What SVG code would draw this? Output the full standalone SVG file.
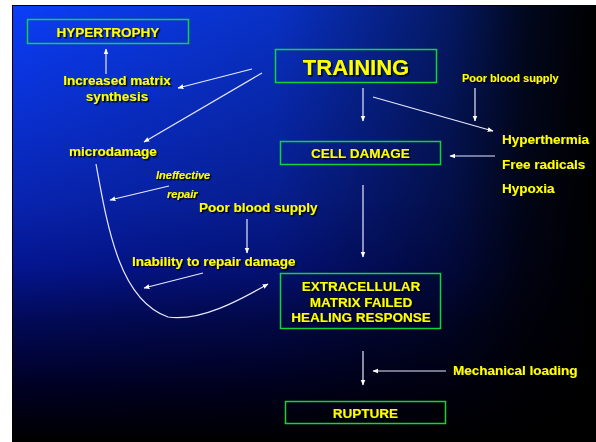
<svg xmlns="http://www.w3.org/2000/svg" width="596" height="442" viewBox="0 0 596 442">
<defs>
<linearGradient id="bgv" x1="0" y1="0" x2="0" y2="1">
<stop offset="0" stop-color="#0b3ef8"/>
<stop offset="0.45" stop-color="#0824b0"/>
<stop offset="0.6" stop-color="#041590"/>
<stop offset="0.72" stop-color="#020a58"/>
<stop offset="0.88" stop-color="#000022"/>
<stop offset="1" stop-color="#000000"/>
</linearGradient>
<linearGradient id="bgh" x1="0" y1="0" x2="1" y2="0">
<stop offset="0" stop-color="#000" stop-opacity="0"/>
<stop offset="0.45" stop-color="#000" stop-opacity="0.2"/>
<stop offset="0.75" stop-color="#000" stop-opacity="0.6"/>
<stop offset="0.88" stop-color="#000" stop-opacity="0.88"/>
<stop offset="1" stop-color="#000" stop-opacity="1"/>
</linearGradient>
<filter id="sh" x="-10%" y="-30%" width="120%" height="160%">
<feDropShadow dx="1.5" dy="1.5" stdDeviation="0.4" flood-color="#000" flood-opacity="0.9"/>
</filter>
<marker id="ah" viewBox="0 0 10 10" refX="9" refY="5" markerWidth="6" markerHeight="6" orient="auto" markerUnits="userSpaceOnUse">
<path d="M0,1 L10,5 L0,9 z" fill="#ffffff"/>
</marker>
<style>
.t{font-family:"Liberation Sans",Arial,sans-serif;font-weight:bold;fill:#ffff00;font-size:13.5px;filter:url(#sh);}
.c{text-anchor:middle;}
.box{fill:none;stroke:#12d43a;stroke-width:1.5;}
.ln{fill:none;stroke:#e8e8ff;stroke-width:1.2;marker-end:url(#ah);}
</style>
</defs>
<rect x="0" y="0" width="596" height="442" fill="#ffffff"/>
<rect x="12" y="5" width="584" height="437" fill="url(#bgv)"/>
<rect x="12" y="5" width="584" height="437" fill="url(#bgh)"/>
<rect x="12.5" y="5.5" width="584" height="437" fill="none" stroke="#000" stroke-width="1"/>

<g id="connectors">
<line class="ln" x1="106" y1="74" x2="106" y2="49"/>
<line class="ln" x1="252" y1="69" x2="178" y2="88"/>
<line class="ln" x1="262" y1="73" x2="144" y2="142"/>
<line class="ln" x1="363" y1="88" x2="363" y2="121"/>
<line class="ln" x1="475" y1="88" x2="475" y2="121"/>
<line class="ln" x1="373" y1="97" x2="493" y2="131"/>
<line class="ln" x1="495" y1="156" x2="450" y2="156"/>
<line class="ln" x1="363" y1="185" x2="363" y2="257"/>
<line class="ln" x1="169" y1="186" x2="110" y2="200"/>
<line class="ln" x1="247" y1="219" x2="247" y2="253"/>
<line class="ln" x1="203" y1="273" x2="144" y2="288"/>
<path class="ln" d="M96,164 C108,230 120,300 168,317 C200,322 240,300 268,284"/>
<line class="ln" x1="363" y1="351" x2="363" y2="385"/>
<line class="ln" x1="446" y1="371" x2="373" y2="371"/>
</g>

<g id="hypertrophy">
<rect class="box" x="27.5" y="19.5" width="161" height="24"/>
<text class="t c" x="108" y="37">HYPERTROPHY</text>
</g>
<g id="training">
<rect class="box" x="275.5" y="49.5" width="161" height="33"/>
<text class="t c" x="356" y="75" style="font-size:22px">TRAINING</text>
</g>
<g id="poor-blood-supply-right">
<text class="t" x="462" y="82" style="font-size:11px">Poor blood supply</text>
</g>
<g id="increased-matrix">
<text class="t c" x="117" y="85">Increased matrix</text>
<text class="t c" x="117" y="101">synthesis</text>
</g>
<g id="microdamage">
<text class="t c" x="113" y="156">microdamage</text>
</g>
<g id="cell-damage">
<rect class="box" x="280.5" y="141.5" width="160" height="23"/>
<text class="t c" x="360.5" y="157.5">CELL DAMAGE</text>
</g>
<g id="factors">
<text class="t" x="502" y="144">Hyperthermia</text>
<text class="t" x="502" y="169">Free radicals</text>
<text class="t" x="502" y="193">Hypoxia</text>
</g>
<g id="ineffective-repair">
<text class="t" x="156" y="179" style="font-size:11px;font-style:italic">Ineffective</text>
<text class="t" x="167" y="198" style="font-size:11px;font-style:italic">repair</text>
</g>
<g id="poor-blood-supply-mid">
<text class="t" x="199" y="212">Poor blood supply</text>
</g>
<g id="inability">
<text class="t" x="132" y="266">Inability to repair damage</text>
</g>
<g id="ecm">
<rect class="box" x="280.5" y="273.5" width="160" height="55"/>
<text class="t c" x="361" y="291">EXTRACELLULAR</text>
<text class="t c" x="361" y="307">MATRIX FAILED</text>
<text class="t c" x="361" y="322">HEALING RESPONSE</text>
</g>
<g id="mechanical-loading">
<text class="t" x="453" y="375">Mechanical loading</text>
</g>
<g id="rupture">
<rect class="box" x="285.5" y="401.5" width="160" height="22"/>
<text class="t c" x="365.5" y="418">RUPTURE</text>
</g>
</svg>
